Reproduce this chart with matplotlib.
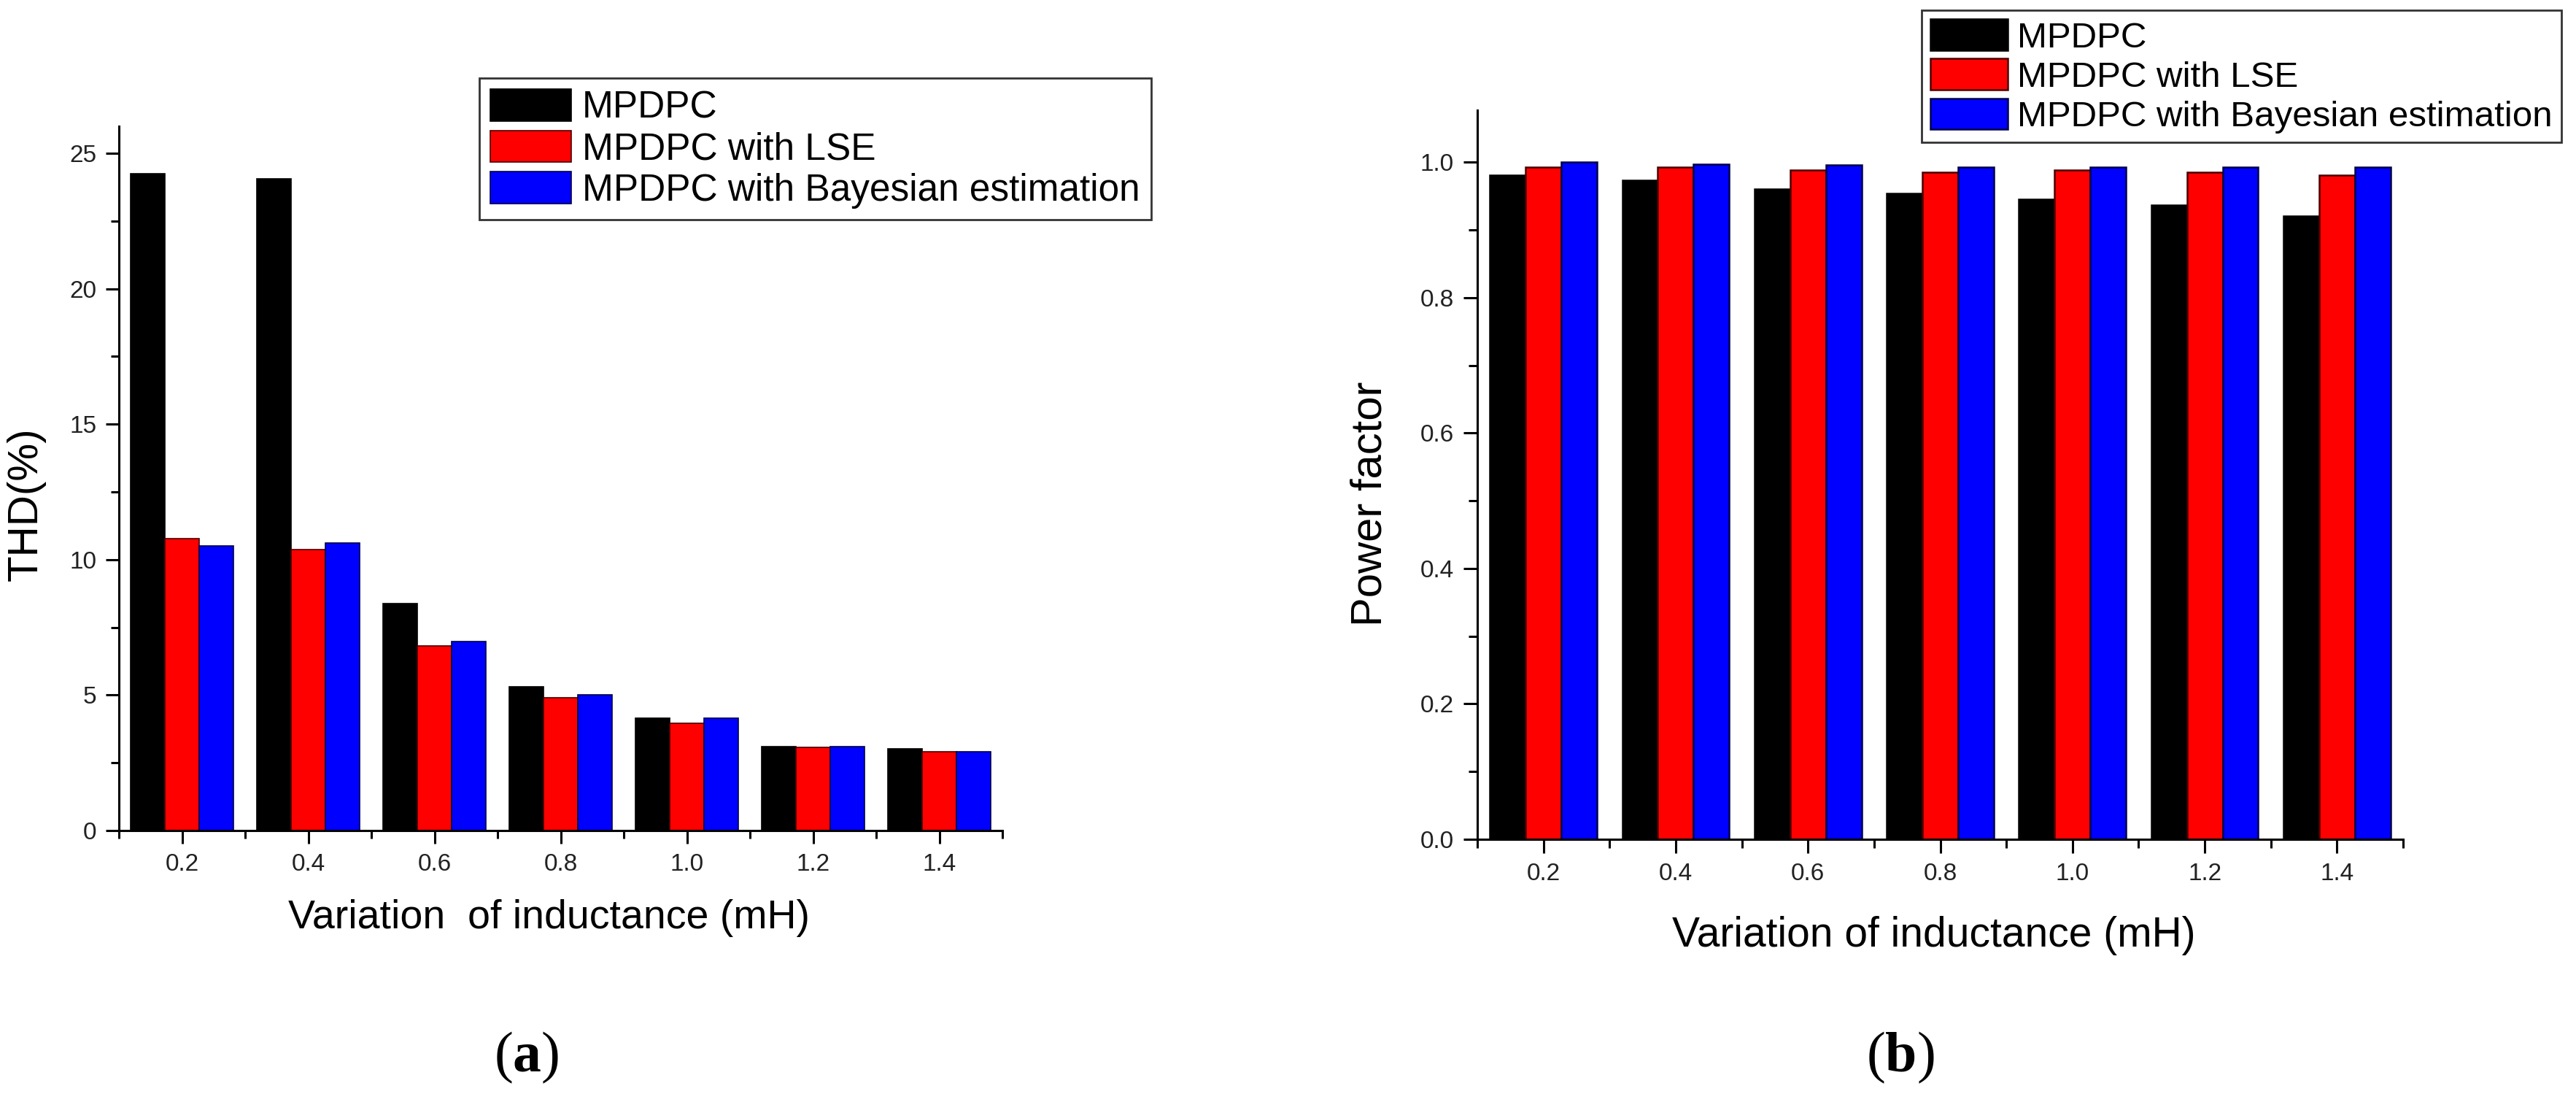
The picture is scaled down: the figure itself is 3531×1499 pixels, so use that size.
import numpy as np
import matplotlib
matplotlib.use("Agg")
import matplotlib.pyplot as plt
from matplotlib.ticker import MultipleLocator, FormatStrFormatter

plt.rcParams['font.family'] = ['Liberation Sans', 'DejaVu Sans']
plt.rcParams['mathtext.fontset'] = 'custom'
plt.rcParams['mathtext.bf'] = 'Liberation Serif:bold'
plt.rcParams['mathtext.rm'] = 'Liberation Serif'

# data
inductance = [0.2, 0.4, 0.6, 0.8, 1.0, 1.2, 1.4]
series_names = ["MPDPC", "MPDPC with LSE", "MPDPC with Bayesian estimation"]
thd_mpdpc = [24.25, 24.07, 8.39, 5.32, 4.16, 3.10, 3.02]
thd_lse = [10.77, 10.38, 6.82, 4.91, 3.95, 3.07, 2.92]
thd_bayes = [10.51, 10.61, 6.97, 5.01, 4.16, 3.10, 2.92]
pf_mpdpc = [0.981, 0.973, 0.961, 0.954, 0.945, 0.937, 0.921]
pf_lse = [0.993, 0.993, 0.989, 0.985, 0.989, 0.985, 0.981]
pf_bayes = [1.000, 0.997, 0.996, 0.993, 0.993, 0.993, 0.993]

colors = ['#000000', '#ff0000', '#0000ff']
edges = ['#000000', '#4a0000', '#00004a']
W, H = 3531, 1499
bw = 0.054

fig = plt.figure(figsize=(W / 100, H / 100), dpi=100)


def px_axes(x0, x1, ytop, ybot):
    return fig.add_axes([x0 / W, 1 - ybot / H, (x1 - x0) / W, (ybot - ytop) / H])


def style_axes(ax, tick_len, minor_len):
    for s in ['top', 'right']:
        ax.spines[s].set_visible(False)
    for s in ['left', 'bottom']:
        ax.spines[s].set_linewidth(2.2)
    ax.tick_params(which='major', direction='out', length=tick_len, width=2.2,
                   labelsize=24, pad=9, labelcolor='#222222')
    ax.tick_params(which='minor', direction='out', length=minor_len, width=2.2)
    ax.set_xlim(0.1, 1.5)
    ax.xaxis.set_major_locator(MultipleLocator(0.2))
    ax.xaxis.set_minor_locator(MultipleLocator(0.1))
    ax.xaxis.set_major_formatter(FormatStrFormatter('%.1f'))
    ax.set_xticks(inductance)


def draw_bars(ax, groups, lw):
    x = np.array(inductance)
    bars = []
    for i, vals in enumerate(groups):
        b = ax.bar(x + (i - 1) * bw, vals, width=bw, color=colors[i],
                   edgecolor=edges[i], linewidth=lw, label=series_names[i])
        bars.append(b)
    return bars


# (a) THD
ax1 = px_axes(163, 1374, 173, 1138)
bars1 = draw_bars(ax1, [thd_mpdpc, thd_lse, thd_bayes], 1.2)
style_axes(ax1, 13, 8)
ax1.set_ylim(0, 26)
ax1.yaxis.set_major_locator(MultipleLocator(5))
ax1.yaxis.set_minor_locator(MultipleLocator(2.5))
ax1.set_ylabel('THD(%)', fontsize=42)
ax1.yaxis.set_label_coords(-0.083, 0.464)
ax1.set_xlabel('Variation  of inductance (mH)', fontsize=40, va='top')
ax1.xaxis.set_label_coords(0.487, -0.097)

leg1 = fig.legend(handles=bars1, labels=series_names, loc='upper left',
                  bbox_to_anchor=(657 / W, 1 - 107 / H), fontsize=37,
                  frameon=True, fancybox=False, edgecolor='black',
                  handlelength=2.15, handleheight=0.92, handletextpad=0.29,
                  labelspacing=0.12, borderpad=0.3, borderaxespad=0)
leg1.get_frame().set_linewidth(2.0)

# (b) power factor
ax2 = px_axes(2025, 3294, 151, 1150)
bars2 = draw_bars(ax2, [pf_mpdpc, pf_lse, pf_bayes], 1.8)
style_axes(ax2, 14, 8.5)
ax2.set_ylim(0, 1.077)
ax2.yaxis.set_major_locator(MultipleLocator(0.2))
ax2.yaxis.set_minor_locator(MultipleLocator(0.1))
ax2.yaxis.set_major_formatter(FormatStrFormatter('%.1f'))
ax2.set_ylabel('Power factor', fontsize=43)
ax2.yaxis.set_label_coords(-0.094, 0.46)
ax2.set_xlabel('Variation of inductance (mH)', fontsize=41, va='top')
ax2.xaxis.set_label_coords(0.493, -0.105)

leg2 = fig.legend(handles=bars2, labels=series_names, loc='upper left',
                  bbox_to_anchor=(2634 / W, 1 - 14 / H), fontsize=35.5,
                  frameon=True, fancybox=False, edgecolor='black',
                  handlelength=2.15, handleheight=0.95, handletextpad=0.26,
                  labelspacing=0.12, borderpad=0.25, borderaxespad=0)
leg2.get_frame().set_linewidth(2.0)

# panel letters
fig.text(722 / W, 1 - 1449 / H, r'($\mathbf{a}$)', fontsize=56,
         family='Liberation Serif', ha='center', va='center')
fig.text(2605 / W, 1 - 1449 / H, r'($\mathbf{b}$)', fontsize=56,
         family='Liberation Serif', ha='center', va='center')

fig.savefig('out.png', dpi=100, facecolor='white')
